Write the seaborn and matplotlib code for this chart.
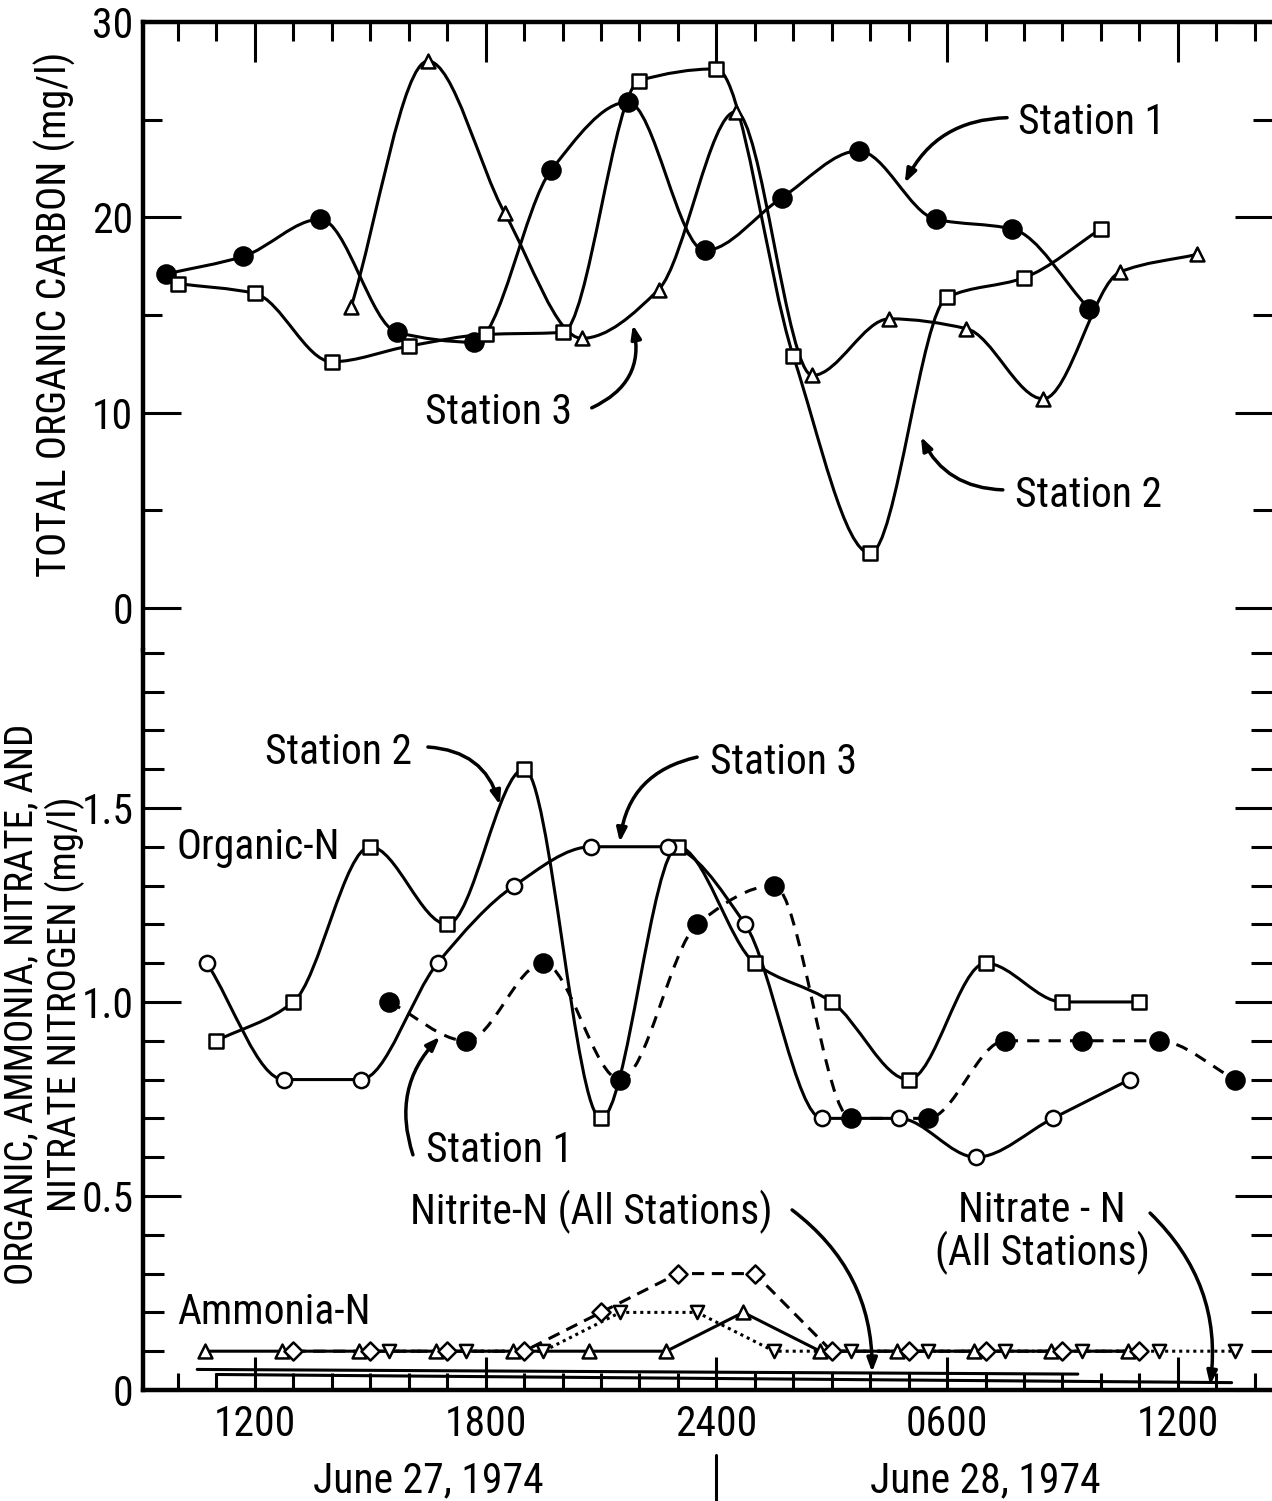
import numpy as np
import matplotlib
matplotlib.use("Agg")
import matplotlib.pyplot as plt
import matplotlib.transforms as mtransforms
from matplotlib.path import Path
from matplotlib.patches import PathPatch
from matplotlib.ticker import FixedLocator, MultipleLocator
from matplotlib import font_manager
import seaborn as sns

# time axis: hours counted from 0000 on June 27, 1974
hour_ticks = [12, 18, 24, 30, 36]
hour_labels = ["1200", "1800", "2400", "0600", "1200"]

# total organic carbon (mg/l)
toc_s1_t = [9.7, 11.7, 13.7, 15.7, 17.7, 19.7, 21.7, 23.7, 25.7, 27.7, 29.7, 31.7, 33.7]
toc_s1 = [17.1, 18.0, 19.9, 14.1, 13.6, 22.4, 25.9, 18.3, 21.0, 23.4, 19.9, 19.4, 15.3]
toc_s2_t = [10, 12, 14, 16, 18, 20, 22, 24, 26, 28, 30, 32, 34]
toc_s2 = [16.6, 16.1, 12.6, 13.4, 14.0, 14.1, 27.0, 27.6, 12.9, 2.8, 15.9, 16.9, 19.4]
toc_s3_t = [14.5, 16.5, 18.5, 20.5, 22.5, 24.5, 26.5, 28.5, 30.5, 32.5, 34.5, 36.5]
toc_s3 = [15.4, 28.0, 20.2, 13.8, 16.3, 25.4, 11.9, 14.8, 14.3, 10.7, 17.2, 18.1]

# organic nitrogen (mg/l)
org_s1_t = [15.5, 17.5, 19.5, 21.5, 23.5, 25.5, 27.5, 29.5, 31.5, 33.5, 35.5, 37.5]
org_s1 = [1.0, 0.9, 1.1, 0.8, 1.2, 1.3, 0.7, 0.7, 0.9, 0.9, 0.9, 0.8]
org_s2_t = [11, 13, 15, 17, 19, 21, 23, 25, 27, 29, 31, 33, 35]
org_s2 = [0.9, 1.0, 1.4, 1.2, 1.6, 0.7, 1.4, 1.1, 1.0, 0.8, 1.1, 1.0, 1.0]
org_s3_t = [10.75, 12.75, 14.75, 16.75, 18.75, 20.75, 22.75, 24.75, 26.75, 28.75, 30.75, 32.75, 34.75]
org_s3 = [1.1, 0.8, 0.8, 1.1, 1.3, 1.4, 1.4, 1.2, 0.7, 0.7, 0.6, 0.7, 0.8]

# ammonia nitrogen (mg/l), three stations
amm_a_t = [10.7, 12.7, 14.7, 16.7, 18.7, 20.7, 22.7, 24.7, 26.7, 28.7, 30.7, 32.7, 34.7]
amm_a = [0.1, 0.1, 0.1, 0.1, 0.1, 0.1, 0.1, 0.2, 0.1, 0.1, 0.1, 0.1, 0.1]
amm_b_t = [13, 15, 17, 19, 21, 23, 25, 27, 29, 31, 33, 35]
amm_b = [0.1, 0.1, 0.1, 0.1, 0.2, 0.3, 0.3, 0.1, 0.1, 0.1, 0.1, 0.1]
amm_c_t = [15.5, 17.5, 19.5, 21.5, 23.5, 25.5, 27.5, 29.5, 31.5, 33.5, 35.5, 37.5]
amm_c = [0.1, 0.1, 0.1, 0.2, 0.2, 0.1, 0.1, 0.1, 0.1, 0.1, 0.1, 0.1]

# nitrite and nitrate nitrogen (all stations)
nitrite_t = [10.5, 33.4]
nitrite = [0.053, 0.041]
nitrate_t = [11.0, 37.4]
nitrate = [0.040, 0.019]

sns.set_style("ticks")

# narrow lettering if some condensed face is installed
fonts = font_manager.fontManager.ttflist
names = {f.name for f in fonts}
family, stretch, fs = ["DejaVu Sans"], "normal", 23
if "Liberation Sans Narrow" in names:
    family, fs = ["Liberation Sans Narrow", "DejaVu Sans"], 29
elif "Roboto Condensed" in names:
    family, fs = ["Roboto Condensed", "DejaVu Sans"], 30
elif any(f.name == "DejaVu Sans" and f.stretch == "condensed" for f in fonts):
    stretch, fs = "condensed", 26
fs_tick = fs
fs_ylab = fs - 2
plt.rcParams["font.family"] = family
plt.rcParams["font.stretch"] = stretch
plt.rcParams["text.color"] = "black"
plt.rcParams["xtick.color"] = "black"
plt.rcParams["ytick.color"] = "black"

LW = 2.2


def smooth_path(t, v):
    # french-curve style line: cubic bezier pieces with monotone tangents
    x = np.asarray(t, float)
    y = np.asarray(v, float)
    h = np.diff(x)
    d = np.diff(y) / h
    m = np.zeros_like(y)
    m[0], m[-1] = d[0], d[-1]
    for i in range(1, len(y) - 1):
        if d[i - 1] * d[i] > 0:
            m[i] = 2 / (1 / d[i - 1] + 1 / d[i])
    verts = [(x[0], y[0])]
    codes = [Path.MOVETO]
    for i in range(len(x) - 1):
        verts += [(x[i] + h[i] / 3, y[i] + m[i] * h[i] / 3),
                  (x[i + 1] - h[i] / 3, y[i + 1] - m[i + 1] * h[i] / 3),
                  (x[i + 1], y[i + 1])]
        codes += [Path.CURVE4] * 3
    return Path(verts, codes)


def curve(ax, t, v, ls="-"):
    ax.add_patch(PathPatch(smooth_path(t, v), fill=False, lw=LW, ls=ls,
                           edgecolor="black", zorder=3))


def marks(ax, t, v, marker, s, filled):
    sns.scatterplot(x=t, y=v, ax=ax, marker=marker, s=s,
                    color="black" if filled else "white",
                    edgecolor="black", linewidth=1.8, zorder=5, legend=False)


def arrow(ax, start, tip, rad):
    ax.annotate("", xy=tip, xytext=start,
                arrowprops=dict(arrowstyle="-|>,head_length=0.8,head_width=0.3",
                                lw=2.5, color="black", shrinkA=0, shrinkB=0,
                                connectionstyle=f"arc3,rad={rad}"))


fig = plt.figure(figsize=(12.72, 15.01), dpi=100)
W, H = 1272, 1501
ax1 = fig.add_axes([143 / W, 1 - 650 / H, 1 - 143 / W, (650 - 22) / H])
ax2 = fig.add_axes([143 / W, 1 - 1390 / H, 1 - 143 / W, (1390 - 650) / H])

for ax in (ax1, ax2):
    ax.set_xlim(9.09, 38.45)
    ax.set_facecolor("white")
    ax.spines["right"].set_visible(False)
    for sp in ax.spines.values():
        sp.set_linewidth(3.2)
        sp.set_color("black")
    ax.xaxis.set_major_locator(FixedLocator(hour_ticks))
    ax.xaxis.set_minor_locator(FixedLocator(list(range(10, 39))))
ax1.spines["bottom"].set_visible(False)
ax2.spines["top"].set_visible(False)

# ---- top panel: total organic carbon
ax1.set_ylim(-2.16, 30)
curve(ax1, toc_s1_t, toc_s1)
curve(ax1, toc_s2_t, toc_s2)
curve(ax1, toc_s3_t, toc_s3)
marks(ax1, toc_s1_t, toc_s1, "o", 170, True)
marks(ax1, toc_s2_t, toc_s2, "s", 90, False)
marks(ax1, toc_s3_t, toc_s3, "^", 100, False)

ax1.xaxis.set_ticks_position("top")
ax1.tick_params(axis="x", which="both", top=True, bottom=False, labeltop=False,
                labelbottom=False, direction="in", width=LW)
ax1.tick_params(axis="x", which="major", length=29)
ax1.tick_params(axis="x", which="minor", length=14)
ax1.yaxis.set_major_locator(FixedLocator([0, 10, 20, 30]))
ax1.yaxis.set_minor_locator(FixedLocator([5, 15, 25]))
ax1.tick_params(axis="y", which="both", left=True, right=True, direction="in",
                width=LW, labelsize=fs_tick, pad=7)
ax1.tick_params(axis="y", which="major", length=27)
ax1.tick_params(axis="y", which="minor", length=14)
ax1.set_ylabel("")

ax1.text(31.84, 24.27, "Station 1", fontsize=fs, ha="left", va="baseline")
arrow(ax1, (31.56, 25.1), (28.9, 21.76), 0.3)
ax1.text(16.42, 9.42, "Station 3", fontsize=fs, ha="left", va="baseline")
arrow(ax1, (20.76, 10.24), (21.83, 14.49), 0.4)
ax1.text(31.77, 5.17, "Station 2", fontsize=fs, ha="left", va="baseline")
arrow(ax1, (31.45, 6.04), (29.32, 8.76), -0.3)

# ---- bottom panel: nitrogen forms
ax2.set_ylim(0, 1.907)
curve(ax2, org_s1_t, org_s1, ls=(0, (4, 3)))
curve(ax2, org_s2_t, org_s2)
curve(ax2, org_s3_t, org_s3)
marks(ax2, org_s1_t, org_s1, "o", 170, True)
marks(ax2, org_s2_t, org_s2, "s", 90, False)
marks(ax2, org_s3_t, org_s3, "o", 120, False)

sns.lineplot(x=amm_a_t, y=amm_a, ax=ax2, color="black", lw=LW, zorder=3)
sns.lineplot(x=amm_b_t, y=amm_b, ax=ax2, color="black", lw=LW, zorder=3,
             linestyle=(0, (4, 2.5)))
sns.lineplot(x=amm_c_t, y=amm_c, ax=ax2, color="black", lw=LW, zorder=3,
             linestyle=(0, (1, 1.3)))
marks(ax2, amm_a_t, amm_a, "^", 100, False)
marks(ax2, amm_b_t, amm_b, "D", 85, False)
marks(ax2, amm_c_t, amm_c, "v", 90, False)

sns.lineplot(x=nitrite_t, y=nitrite, ax=ax2, color="black", lw=LW, zorder=3)
sns.lineplot(x=nitrate_t, y=nitrate, ax=ax2, color="black", lw=LW, zorder=3)

ax2.xaxis.set_ticks_position("bottom")
ax2.set_xticks(hour_ticks)
ax2.set_xticklabels(hour_labels)
ax2.xaxis.set_minor_locator(FixedLocator(list(range(10, 39))))
ax2.tick_params(axis="x", which="both", direction="in", width=LW,
                labelsize=fs_tick, pad=10)
ax2.tick_params(axis="x", which="major", length=24)
ax2.tick_params(axis="x", which="minor", length=12)
ax2.yaxis.set_major_locator(FixedLocator([0, 0.5, 1.0, 1.5]))
ax2.set_yticklabels(["0", "0.5", "1.0", "1.5"])
ax2.yaxis.set_minor_locator(MultipleLocator(0.1))
ax2.tick_params(axis="y", which="both", left=True, right=True, direction="in",
                width=LW, labelsize=fs_tick, pad=7)
ax2.tick_params(axis="y", which="major", length=27)
ax2.tick_params(axis="y", which="minor", length=15)
ax2.set_xlabel("")
ax2.set_ylabel("")

ax2.text(12.26, 1.613, "Station 2", fontsize=fs, ha="left", va="baseline")
arrow(ax2, (16.5, 1.657), (18.37, 1.508), -0.35)
ax2.text(23.83, 1.588, "Station 3", fontsize=fs, ha="left", va="baseline")
arrow(ax2, (23.5, 1.631), (21.49, 1.412), 0.35)
ax2.text(9.97, 1.369, "Organic-N", fontsize=fs, ha="left", va="baseline")
ax2.text(16.45, 0.588, "Station 1", fontsize=fs, ha="left", va="baseline")
arrow(ax2, (16.11, 0.606), (16.81, 0.91), -0.3)
ax2.text(9.97, 0.170, "Ammonia-N", fontsize=fs, ha="left", va="baseline")
ax2.text(16.03, 0.428, "Nitrite-N (All Stations)", fontsize=fs, ha="left", va="baseline")
arrow(ax2, (25.97, 0.464), (28.05, 0.046), -0.25)
ax2.text(32.47, 0.405, "Nitrate - N\n(All Stations)", fontsize=fs, ha="center",
         va="center", multialignment="center", linespacing=1.0)
arrow(ax2, (35.28, 0.456), (36.84, 0.013), -0.25)

# dates under the time axis
blend = mtransforms.blended_transform_factory(ax2.transData, ax2.transAxes)
ax2.text(16.5, -0.138, "June 27, 1974", transform=blend, fontsize=fs,
         ha="center", va="baseline")
ax2.text(31.0, -0.138, "June 28, 1974", transform=blend, fontsize=fs,
         ha="center", va="baseline")
ax2.axvline(24, ymin=-0.149, ymax=-0.088, clip_on=False, lw=LW, color="black")

# axis titles
fig.text(55 / W, 1 - 314 / H, "TOTAL ORGANIC CARBON (mg/l)", rotation=90,
         fontsize=fs_ylab + 1, ha="center", va="center")
fig.text(44 / W, 1 - 1004 / H,
         "ORGANIC, AMMONIA, NITRATE, AND\nNITRATE NITROGEN (mg/l)", rotation=90,
         fontsize=fs_ylab, ha="center", va="center", multialignment="center",
         linespacing=1.15)

fig.savefig("out.png", dpi=100, facecolor="white")
